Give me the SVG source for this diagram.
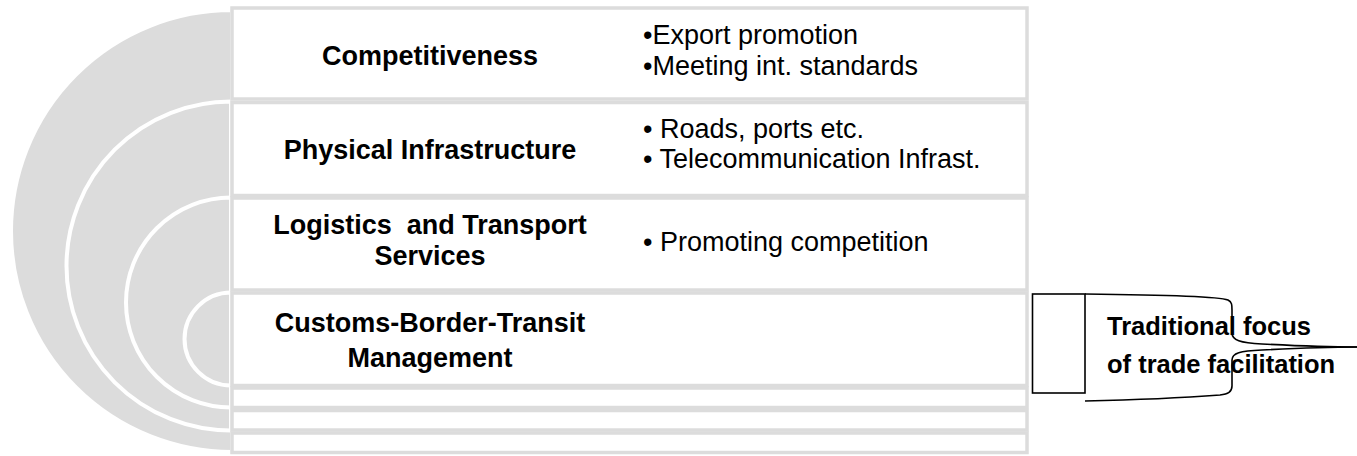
<svg xmlns="http://www.w3.org/2000/svg" width="1357" height="456" viewBox="0 0 1357 456">
<style>
.bg{fill:#ffffff}
.ring{fill:#dcdcdc;stroke:#ffffff;stroke-width:4}
.row{fill:#ffffff;stroke:#dcdcdc;stroke-width:3.5}
.t{font-family:"Liberation Sans",Arial,sans-serif;font-weight:bold;font-size:27px;fill:#000000;text-anchor:middle}
.b{font-family:"Liberation Sans",Arial,sans-serif;font-size:27px;fill:#000000}
.r{font-family:"Liberation Sans",Arial,sans-serif;font-weight:bold;font-size:25.5px;fill:#000000}
.ln{fill:none;stroke:#000000;stroke-width:1.6}
</style>
<rect class="bg" x="0" y="0" width="1357" height="456"/>
<g id="rings">
<path class="ring" d="M232,10 A221,221 0 0 0 232,452 Z"/>
<path class="ring" d="M231,101.5 A164.5,164.5 0 0 0 231,430.5 Z"/>
<path class="ring" d="M231,197.5 A105,105 0 0 0 231,407.5 Z"/>
<path class="ring" d="M231,292.5 A46.5,46.5 0 0 0 231,385.5 Z"/>
</g>
<g id="row-competitiveness">
<rect class="row" x="232" y="8" width="795" height="91"/>
<text class="t" x="430" y="65">Competitiveness</text>
<text class="b" x="643" y="44" font-size="26">•Export promotion</text>
<text class="b" x="643" y="75" font-size="26">•Meeting int. standards</text>
</g>
<g id="row-physical">
<rect class="row" x="232" y="102.5" width="795" height="93"/>
<text class="t" x="430" y="159">Physical Infrastructure</text>
<text class="b" x="643" y="138">• Roads, ports etc.</text>
<text class="b" x="643" y="168">• Telecommunication Infrast.</text>
</g>
<g id="row-logistics">
<rect class="row" x="232" y="198" width="795" height="92"/>
<text class="t" x="430" y="234" style="white-space:pre" font-size="26.3">Logistics  and Transport</text>
<text class="t" x="430" y="265">Services</text>
<text class="b" x="643" y="251">• Promoting competition</text>
</g>
<g id="row-customs">
<rect class="row" x="232" y="293" width="795" height="92.5"/>
<text class="t" x="430" y="332">Customs-Border-Transit</text>
<text class="t" x="430" y="367">Management</text>
</g>
<g id="row-5"><rect class="row" x="232" y="388" width="795" height="19.5"/></g>
<g id="row-6"><rect class="row" x="232" y="410.5" width="795" height="19.5"/></g>
<g id="row-7"><rect class="row" x="232" y="433" width="795" height="19.5"/></g>
<g id="focus-label">
<rect class="ln" x="1032.5" y="294" width="52.5" height="99" fill="#ffffff"/>
<text class="r" x="1107" y="335">Traditional focus</text>
<text class="r" x="1107" y="373">of trade facilitation</text>
</g>
<g id="connectors">
<path class="ln" d="M1085,294 C1180,295 1220,297 1228,300 C1232,302 1232,305 1232,310 L1232,333 C1232,340 1240,343 1262,344 C1300,346 1330,347 1357,347"/>
<path class="ln" d="M1357,347 C1330,347 1300,348 1262,350 C1240,351 1232,353 1232,360 L1232,386 C1232,392 1228,394 1220,395 C1180,398 1130,400 1085,401"/>
</g>
</svg>
